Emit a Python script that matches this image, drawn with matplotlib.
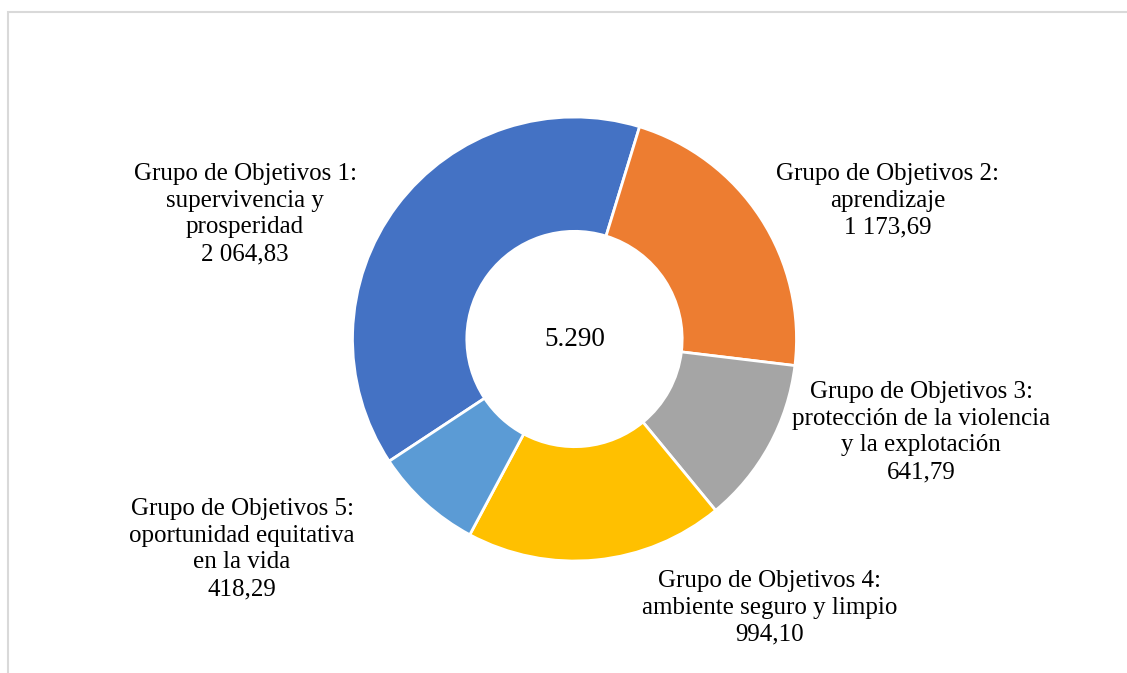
import matplotlib
matplotlib.use("Agg")
import matplotlib.pyplot as plt
from matplotlib.patches import Rectangle

# datos del gráfico
grupos = ["Grupo de Objetivos 1:\nsupervivencia y\nprosperidad",
          "Grupo de Objetivos 2:\naprendizaje",
          "Grupo de Objetivos 3:\nprotección de la violencia\ny la explotación",
          "Grupo de Objetivos 4:\nambiente seguro y limpio",
          "Grupo de Objetivos 5:\noportunidad equitativa\nen la vida"]
valores = [2064.83, 1173.69, 641.79, 994.10, 418.29]
valores_txt = ["2 064,83", "1 173,69", "641,79", "994,10", "418,29"]
total_txt = "5.290"
colores = ["#4472C4", "#ED7D31", "#A5A5A5", "#FFC000", "#5B9BD5"]

W, H = 1127, 673
plt.rcParams['font.family'] = ['Liberation Serif', 'DejaVu Serif']

fig = plt.figure(figsize=(W / 100, H / 100), dpi=100)

# marco del área del gráfico
fig.patches.append(Rectangle((8 / W, -0.1), 1.2, (H - 12) / H + 0.1, transform=fig.transFigure,
                             fill=False, edgecolor="#D9D9D9", linewidth=1.5))

cx, cy, r = 574.5, 339, 222
ax = fig.add_axes([(cx - r) / W, (H - cy - r) / H, 2 * r / W, 2 * r / H])
ax.pie(valores, colors=colores, startangle=213.4, counterclock=False, radius=1,
       wedgeprops=dict(width=0.515, edgecolor="white", linewidth=2))
ax.set_xlim(-1, 1)
ax.set_ylim(-1, 1)
ax.axis("off")
ax.text(0, 0, total_txt, ha="center", va="center", fontsize=19.5)

# posiciones de las etiquetas (centro del bloque, en píxeles)
pos = [(245, 214), (888, 201), (921, 432), (770, 608), (242, 549)]
for g, v, (px, py) in zip(grupos, valores_txt, pos):
    fig.text(px / W, 1 - py / H, g + "\n" + v, ha="center", va="center",
             fontsize=18, linespacing=1.28, multialignment="center")

fig.savefig("out.png", dpi=100)
